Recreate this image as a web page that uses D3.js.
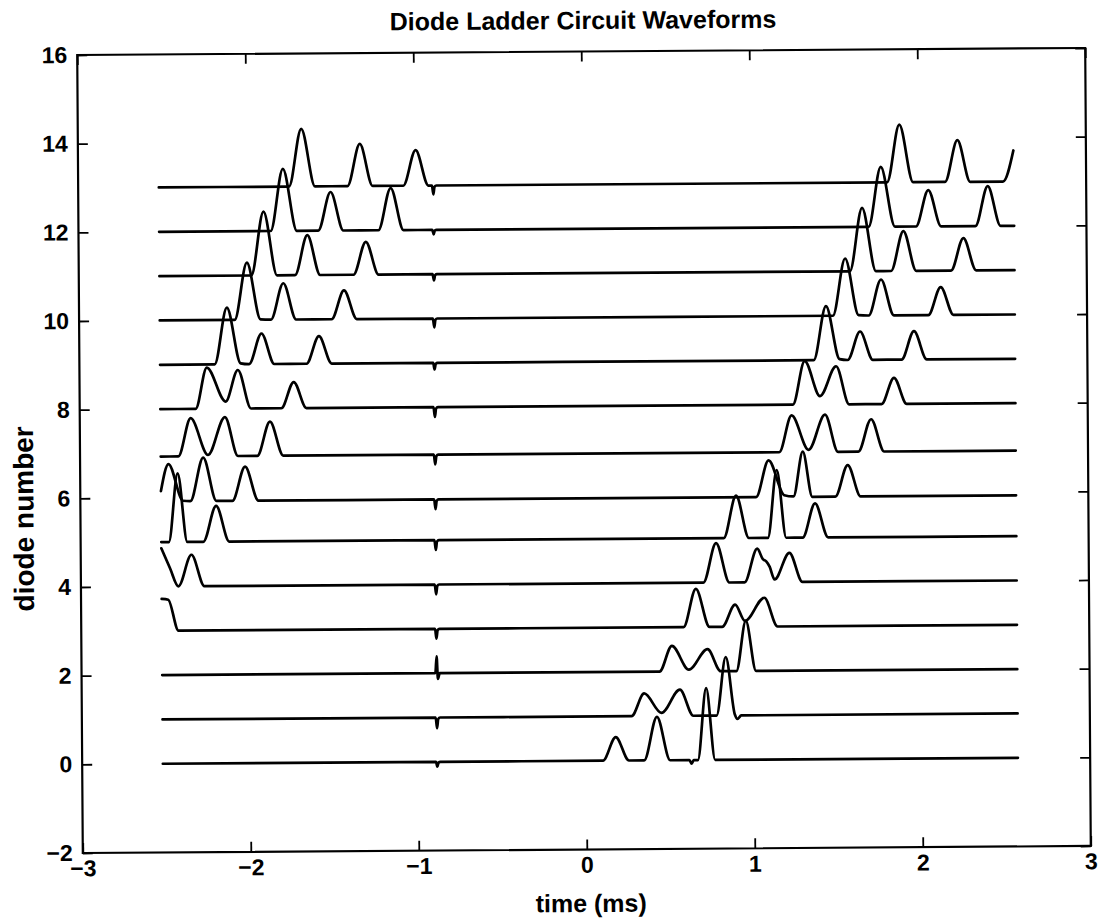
<!DOCTYPE html>
<html><head><meta charset="utf-8">
<script src="https://cdn.jsdelivr.net/npm/d3@7"></script>
<style>body{margin:0;background:#fff}svg{display:block}</style>
</head><body><svg id="c" width="1109" height="923"></svg>
<script>
const titleText = "Diode Ladder Circuit Waveforms";
const xLabelText = "time (ms)";
const yLabelText = "diode number";
const xTicks = [-3, -2, -1, 0, 1, 2, 3];
const yTicks = [-2, 0, 2, 4, 6, 8, 10, 12, 14, 16];
const diodes = [0, 1, 2, 3, 4, 5, 6, 7, 8, 9, 10, 11, 12, 13];
const baselineOffset = [0, 0, 0, 0, 0, 0, -0.08, -0.07, 0, 0, 0, 0, 0, 0];
const glitchTime = -0.886;
const glitchDepth = [-0.11, -0.24, 0.38, -0.22, -0.22, -0.22, -0.22, -0.22, -0.22, -0.15, -0.2, -0.14, -0.1, -0.2];

// key points [time (ms), level above the diode baseline]
const trace0 = [[-2.52,0],[0.10,0],[0.177,0.53],[0.255,0],[0.345,0],[0.423,0.98],[0.50,0],[0.615,0],[0.628,-0.08],[0.64,0],[0.665,0],[0.717,1.62],[0.768,0],[2.57,0]];
const trace1 = [[-2.52,0],[0.272,0],[0.348,0.51],[0.45,0.07],[0.561,0.59],[0.64,0],[0.778,0],[0.835,1.32],[0.887,0.02],[0.902,-0.08],[0.925,0],[2.57,0]];
const trace2 = [[-2.52,0],[0.44,0],[0.515,0.58],[0.615,0.04],[0.727,0.50],[0.805,0],[0.898,0],[0.956,1.13],[1.015,0],[2.57,0]];
const trace3 = [[-2.52,0.72],[-2.481,0.70],[-2.421,0],[0.585,0],[0.660,0.86],[0.74,0],[0.815,0],[0.893,0.50],[0.951,0.13],[1.067,0.65],[1.145,0],[2.57,0]];
const trace4 = [[-2.52,0.86],[-2.469,0.41],[-2.42,0],[-2.341,0.71],[-2.265,0],[0.705,0],[0.782,0.89],[0.86,0],[0.95,0],[1.027,0.76],[1.06,0.52],[1.08,0.47],[1.10,0.35],[1.129,0.06],[1.218,0.66],[1.295,0],[2.57,0]];
const trace5 = [[-2.52,0],[-2.475,0],[-2.420,1.55],[-2.365,0],[-2.27,0],[-2.192,0.81],[-2.115,0],[0.828,0],[0.903,0.96],[0.978,0],[1.091,0],[1.146,1.53],[1.20,0],[1.298,0],[1.373,0.77],[1.45,0],[2.57,0]];
const trace6 = [[-2.52,0.23],[-2.474,0.84],[-2.389,0.01],[-2.345,0],[-2.267,0.98],[-2.19,0],[-2.095,0],[-2.018,0.77],[-1.94,0],[1.022,0],[1.098,0.83],[1.19,0.04],[1.245,0.01],[1.302,1.02],[1.357,0],[1.494,0],[1.569,0.71],[1.645,0],[2.57,0]];
const trace7 = [[-2.52,0],[-2.415,0],[-2.340,0.86],[-2.238,0.03],[-2.136,0.88],[-2.06,0],[-1.945,0],[-1.868,0.77],[-1.79,0],[1.162,0],[1.237,0.83],[1.337,0.05],[1.436,0.84],[1.512,0],[1.633,0],[1.710,0.73],[1.787,0],[2.57,0]];
const trace8 = [[-2.52,0],[-2.31,0],[-2.242,0.93],[-2.131,0.16],[-2.057,0.87],[-1.98,0],[-1.80,0],[-1.725,0.59],[-1.65,0],[1.245,0],[1.317,0.98],[1.407,0.19],[1.504,0.86],[1.58,0],[1.773,0],[1.848,0.59],[1.923,0],[2.57,0]];
const trace9 = [[-2.52,0],[-2.195,0],[-2.120,1.28],[-2.04,0.02],[-1.99,0],[-1.915,0.69],[-1.84,0],[-1.648,0],[-1.573,0.62],[-1.498,0],[1.371,0],[1.446,1.22],[1.525,0.02],[1.573,0],[1.648,0.64],[1.723,0],[1.894,0],[1.969,0.64],[2.044,0],[2.57,0]];
const trace10 = [[-2.52,0],[-2.074,0],[-1.999,1.29],[-1.92,0.01],[-1.858,0],[-1.783,0.82],[-1.708,0],[-1.497,0],[-1.422,0.65],[-1.347,0],[1.487,0],[1.562,1.29],[1.64,0.01],[1.70,0],[1.775,0.81],[1.85,0],[2.055,0],[2.130,0.63],[2.205,0],[2.57,0]];
const trace11 = [[-2.52,0],[-1.973,0],[-1.898,1.44],[-1.82,0],[-1.713,0],[-1.638,0.90],[-1.563,0],[-1.365,0],[-1.290,0.74],[-1.215,0],[1.59,0],[1.665,1.43],[1.745,0],[1.835,0],[1.910,0.90],[1.985,0],[2.192,0],[2.267,0.73],[2.342,0],[2.57,0]];
const trace12 = [[-2.52,0],[-1.856,0],[-1.781,1.40],[-1.70,0],[-1.573,0],[-1.498,0.87],[-1.423,0],[-1.215,0],[-1.140,0.95],[-1.065,0],[1.703,0],[1.778,1.35],[1.86,0],[1.985,0],[2.060,0.82],[2.135,0],[2.339,0],[2.414,0.90],[2.489,0],[2.57,0]];
const trace13 = [[-2.52,0],[-1.745,0],[-1.670,1.30],[-1.59,0],[-1.397,0],[-1.322,0.95],[-1.247,0],[-1.065,0],[-0.990,0.80],[-0.915,0],[1.815,0],[1.890,1.30],[1.97,0],[2.16,0],[2.235,0.94],[2.31,0],[2.505,0],[2.568,0.70]];
const traces = [trace0, trace1, trace2, trace3, trace4, trace5, trace6, trace7, trace8, trace9, trace10, trace11, trace12, trace13];

const W = 1109, H = 923;
const L = 80, R = 1088, T = 51.5, B = 849.5;
const FONT = "'Liberation Sans', Arial, Helvetica, sans-serif";

const x = d3.scaleLinear().domain([-3, 3]).range([L, R]);
const y = d3.scaleLinear().domain([-2, 16]).range([B, T]);
const fmt = d => d < 0 ? "\u2212" + (-d) : String(d);

const svg = d3.select("#c");
svg.append("rect").attr("width", W).attr("height", H).attr("fill", "#fff");
const g = svg.append("g").attr("transform", "rotate(-0.4,583,450)");

// traces
const line = d3.line().x(d => x(d[0])).y(d => y(d[1])).curve(d3.curveMonotoneX);
diodes.forEach(k => {
  const gd = glitchDepth[k];
  const glitch = [[glitchTime - 0.008, 0], [glitchTime, gd], [glitchTime + 0.007, gd > 0 ? -0.13 : gd * 0.15], [glitchTime + 0.018, 0]];
  const pts = traces[k].concat(glitch).sort((a, b) => a[0] - b[0])
    .map(p => [p[0], diodes[k] + baselineOffset[k] + p[1]]);
  g.append("path").attr("d", line(pts)).attr("fill", "none")
    .attr("stroke", "#000").attr("stroke-width", 2.7)
    .attr("stroke-linejoin", "round").attr("stroke-linecap", "round");
});

// axes (inward ticks on all sides)
const styleAxis = sel => {
  sel.select(".domain").remove();
  sel.selectAll(".tick line").attr("stroke", "#000").attr("stroke-width", 1.8);
  sel.selectAll(".tick text").attr("fill", "#000").attr("font-family", FONT)
    .attr("font-weight", "bold").attr("font-size", 23);
};
g.append("g").attr("transform", `translate(0,${B})`)
  .call(d3.axisBottom(x).tickValues(xTicks).tickSize(-10).tickPadding(7).tickFormat(fmt)).call(styleAxis);
g.append("g").attr("transform", `translate(0,${T})`)
  .call(d3.axisTop(x).tickValues(xTicks).tickSize(-10).tickFormat("")).call(styleAxis);
g.append("g").attr("transform", `translate(${L},0)`)
  .call(d3.axisLeft(y).tickValues(yTicks).tickSize(-10).tickPadding(10).tickFormat(fmt)).call(styleAxis);
g.append("g").attr("transform", `translate(${R},0)`)
  .call(d3.axisRight(y).tickValues(yTicks).tickSize(-10).tickFormat("")).call(styleAxis);

g.append("rect").attr("x", L).attr("y", T).attr("width", R - L).attr("height", B - T)
  .attr("fill", "none").attr("stroke", "#000").attr("stroke-width", 2.2);

// labels
g.append("text").attr("x", 586).attr("y", 29).attr("text-anchor", "middle")
  .attr("font-family", FONT).attr("font-weight", "bold").attr("font-size", 25).text(titleText);
g.append("text").attr("x", 588).attr("y", 912).attr("text-anchor", "middle")
  .attr("font-family", FONT).attr("font-weight", "bold").attr("font-size", 25).text(xLabelText);
g.append("text").attr("transform", "translate(33,515) rotate(-90)").attr("text-anchor", "middle")
  .attr("font-family", FONT).attr("font-weight", "bold").attr("font-size", 28).text(yLabelText);
</script></body></html>
